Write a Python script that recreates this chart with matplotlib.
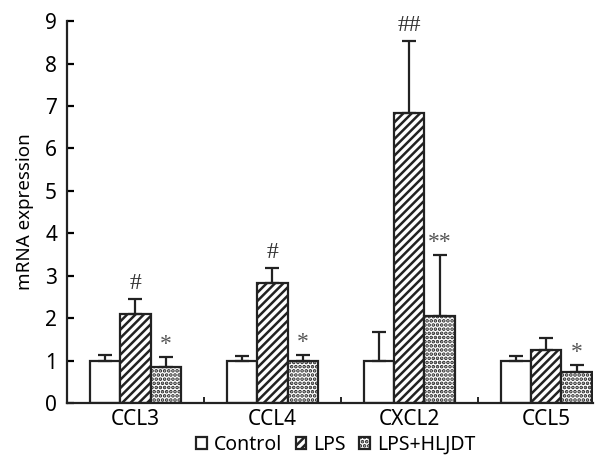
import numpy as np
import matplotlib
matplotlib.use("Agg")
import matplotlib.pyplot as plt

plt.rcParams['font.family'] = ['Noto Sans', 'DejaVu Sans']
plt.rcParams['hatch.linewidth'] = 1.8

genes = ["CCL3", "CCL4", "CXCL2", "CCL5"]
groups = ["Control", "LPS", "LPS+HLJDT"]
control = [1.0, 1.0, 1.0, 1.0]
control_err = [0.14, 0.10, 0.68, 0.10]
lps = [2.10, 2.82, 6.84, 1.26]
lps_err = [0.34, 0.37, 1.70, 0.27]
hljdt = [0.85, 0.98, 2.06, 0.72]
hljdt_err = [0.24, 0.16, 1.42, 0.17]
lps_marks = ["#", "#", "##", ""]
hljdt_marks = ["*", "*", "**", "*"]

x = np.arange(len(genes))
w = 0.222

fig = plt.figure(figsize=(6.08, 4.59), dpi=100)
ax = fig.add_axes([0.110, 0.122, 0.865, 0.832])

ekw = dict(ecolor="#222222", elinewidth=1.6, capsize=5, capthick=1.6)
b1 = ax.bar(x - w, control, w, color="white", edgecolor="#222222", linewidth=1.6,
            yerr=[np.zeros(4), control_err], error_kw=ekw, label=groups[0], zorder=2)
b2 = ax.bar(x, lps, w, color="white", edgecolor="#222222", linewidth=1.6, hatch="////",
            yerr=[np.zeros(4), lps_err], error_kw=ekw, label=groups[1], zorder=2)
b3 = ax.bar(x + w, hljdt, w, color="white", edgecolor="#222222", linewidth=1.6, hatch="....",
            yerr=[np.zeros(4), hljdt_err], error_kw=ekw, label=groups[2], zorder=2)

for i in range(len(genes)):
    if lps_marks[i]:
        ax.text(x[i], lps[i] + lps_err[i] + 0.12, lps_marks[i], ha="center", va="bottom",
                family="Liberation Serif", fontsize=17, color="#333333")
    if hljdt_marks[i]:
        ax.text(x[i] + w, hljdt[i] + hljdt_err[i] + 0.05, hljdt_marks[i], ha="center", va="bottom",
                family="Liberation Serif", fontsize=17, color="#555555")

ax.set_xlim(-0.5, 3.34)
ax.set_ylim(0, 9)
ax.set_yticks(range(10))
ax.set_xticks(x)
ax.set_xticklabels(genes, fontsize=15)
ax.set_xticks([0.5, 1.5, 2.5], minor=True)
ax.tick_params(axis="x", which="major", length=0, pad=4)
ax.tick_params(axis="x", which="minor", direction="in", length=4, width=1.2)
ax.tick_params(axis="y", direction="in", length=5, width=1.6, labelsize=15, pad=7)
ax.set_ylabel("mRNA expression", fontsize=13.5, labelpad=8)
for s in ["top", "right"]:
    ax.spines[s].set_visible(False)
for s in ["left", "bottom"]:
    ax.spines[s].set_linewidth(1.6)
    ax.spines[s].set_color("#222222")

h, l = ax.get_legend_handles_labels()
fig.legend(h, l, loc="center", bbox_to_anchor=(0.552, 0.031), ncol=3, frameon=False,
           fontsize=14, handlelength=0.55, handleheight=0.55, handletextpad=0.35,
           columnspacing=0.7, borderpad=0)

fig.savefig("out.png", dpi=100)
